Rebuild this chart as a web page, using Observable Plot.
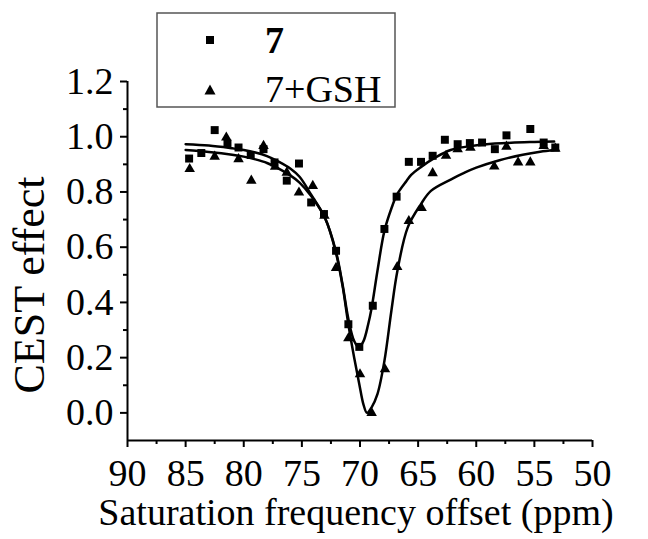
<!DOCTYPE html>
<html><head><meta charset="utf-8">
<script src="https://cdn.jsdelivr.net/npm/d3@7"></script>
<script src="https://cdn.jsdelivr.net/npm/@observablehq/plot@0.6"></script>
<style>
body{margin:0;background:#fff}
#wrap{position:relative;width:648px;height:539px;font-family:'Liberation Serif'}
#over{position:absolute;left:0;top:0;pointer-events:none}
</style>
</head><body><div id="wrap"></div>
<script>
// Series "7" (squares)
const sqX = [84.7, 83.65, 82.5, 81.4, 80.45, 79.4, 78.3, 77.35, 76.3, 75.25, 74.2, 73.1, 72.06, 71.0, 70.06, 68.9, 67.9, 66.85, 65.8, 64.75, 63.75, 62.7, 61.6, 60.55, 59.5, 58.4, 57.4, 55.35, 54.2, 53.2];
const sqY = [0.921, 0.941, 1.024, 0.975, 0.961, 0.934, 0.955, 0.907, 0.841, 0.903, 0.762, 0.72, 0.587, 0.321, 0.239, 0.388, 0.666, 0.783, 0.909, 0.909, 0.931, 0.989, 0.973, 0.977, 0.979, 0.955, 1.005, 1.028, 0.979, 0.961];
// Series "7+GSH" (triangles)
const trX = [84.65, 82.5, 81.5, 80.45, 79.35, 78.3, 77.3, 76.3, 75.25, 74.06, 73.06, 72.06, 71.0, 70.0, 69.0, 67.85, 66.8, 65.8, 64.7, 63.75, 62.6, 61.6, 60.5, 58.45, 57.4, 56.4, 55.35, 54.2, 53.2];
const trY = [0.883, 0.928, 0.997, 0.919, 0.841, 0.967, 0.891, 0.87, 0.798, 0.822, 0.714, 0.525, 0.27, 0.14, 0.0, 0.158, 0.528, 0.695, 0.742, 0.868, 0.931, 0.955, 0.96, 0.892, 0.964, 0.907, 0.907, 0.967, 0.957];
// Fitted curve for "7"
const sqFitX = [85, 83, 81, 80, 79, 78, 77, 76, 75.2, 74.2, 73, 72.1, 71.5, 71, 70.5, 70.1, 69.7, 69.3, 69, 68.5, 67.9, 67.3, 66.8, 66, 65.6, 64.8, 63.5, 62.2, 60.5, 59.3, 57, 55, 53.3];
const sqFitY = [0.973, 0.968, 0.958, 0.952, 0.943, 0.93, 0.91, 0.885, 0.855, 0.79, 0.705, 0.59, 0.465, 0.34, 0.26, 0.237, 0.26, 0.32, 0.38, 0.514, 0.659, 0.74, 0.792, 0.84, 0.862, 0.889, 0.925, 0.952, 0.966, 0.972, 0.978, 0.981, 0.983];
// Fitted curve for "7+GSH"
const trFitX = [85, 83, 81, 80, 79, 78, 77.2, 76, 75.2, 74.2, 73, 72.1, 71.5, 71, 70.5, 70.06, 69.7, 69.4, 69.0, 68.5, 67.9, 67.3, 66.8, 65.9, 64.76, 63.9, 62.2, 61, 60, 58, 56, 54.5, 53.3];
const trFitY = [0.952, 0.945, 0.935, 0.928, 0.918, 0.905, 0.889, 0.86, 0.834, 0.785, 0.705, 0.585, 0.46, 0.32, 0.2, 0.104, 0.03, 0.0, 0.02, 0.068, 0.188, 0.37, 0.51, 0.671, 0.756, 0.804, 0.845, 0.87, 0.888, 0.915, 0.935, 0.946, 0.952];
// Ticks
const xTicks = [90, 85, 80, 75, 70, 65, 60, 55, 50];
const xMinor = [87.5, 82.5, 77.5, 72.5, 67.5, 62.5, 57.5, 52.5];
const yTicks = [0.0, 0.2, 0.4, 0.6, 0.8, 1.0, 1.2];
const yMinor = [0.1, 0.3, 0.5, 0.7, 0.9, 1.1];
const seriesNames = ["7", "7+GSH"];
const xTitle = "Saturation frequency offset (ppm)";
const yTitle = "CEST effect";

const sq = sqX.map((x, i) => ({x, y: sqY[i]}));
const tr = trX.map((x, i) => ({x, y: trY[i]}));
const sqFit = sqFitX.map((x, i) => ({x, y: sqFitY[i]}));
const trFit = trFitX.map((x, i) => ({x, y: trFitY[i]}));

const plot = Plot.plot({
  width: 648, height: 539,
  marginLeft: 127, marginRight: 56, marginTop: 81, marginBottom: 99,
  style: {fontFamily: "Liberation Serif", fontSize: "38px", color: "black", background: "white", overflow: "visible"},
  x: {domain: [90, 50]},
  y: {domain: [-0.1, 1.2]},
  marks: [
    Plot.axisX(xMinor, {tickSize: 4, tickFormat: () => "", label: null, strokeWidth: 2}),
    Plot.axisX(xTicks, {tickSize: 7, tickPadding: 12, tickFormat: d => String(d), label: null, strokeWidth: 2, fill: "black"}),
    Plot.axisY(yMinor, {tickSize: 4, tickFormat: () => "", label: null, strokeWidth: 2}),
    Plot.axisY(yTicks, {tickSize: 7, tickPadding: 7, tickFormat: d => d.toFixed(1), label: null, strokeWidth: 2, fill: "black"}),
    Plot.ruleX([90], {stroke: "black", strokeWidth: 2}),
    Plot.ruleY([-0.1], {stroke: "black", strokeWidth: 2}),
    Plot.line(sqFit, {x: "x", y: "y", curve: "catmull-rom", stroke: "black", strokeWidth: 2.5}),
    Plot.line(trFit, {x: "x", y: "y", curve: "catmull-rom", stroke: "black", strokeWidth: 2.5}),
    Plot.dot(sq, {x: "x", y: "y", symbol: "square", r: 4.5, fill: "black", stroke: "none"}),
    Plot.dot(tr, {x: "x", y: "y", symbol: "triangle", r: 3.9, fill: "black", stroke: "none"})
  ]
});
const wrap = document.getElementById("wrap");
wrap.appendChild(plot);

const ns = "http://www.w3.org/2000/svg";
const over = document.createElementNS(ns, "svg");
over.setAttribute("id", "over");
over.setAttribute("width", 648);
over.setAttribute("height", 539);
over.innerHTML = `
  <rect x="157" y="13" width="238" height="94" fill="white" stroke="#555" stroke-width="1.5"/>
  <rect x="206" y="36" width="8" height="8" fill="black"/>
  <path d="M210,84.5 L215.5,94.5 L204.5,94.5 Z" fill="black"/>
  <text x="265" y="53" font-family="Liberation Serif" font-size="38" font-weight="bold" fill="black">${seriesNames[0]}</text>
  <text x="265" y="102" font-family="Liberation Serif" font-size="38" fill="black">${seriesNames[1]}</text>
  <text x="356" y="525" font-family="Liberation Serif" font-size="38" text-anchor="middle" fill="black">${xTitle}</text>
  <text transform="translate(44,285) rotate(-90)" font-family="Liberation Serif" font-size="44" text-anchor="middle" fill="black">${yTitle}</text>
`;
wrap.appendChild(over);
</script>
</body></html>
